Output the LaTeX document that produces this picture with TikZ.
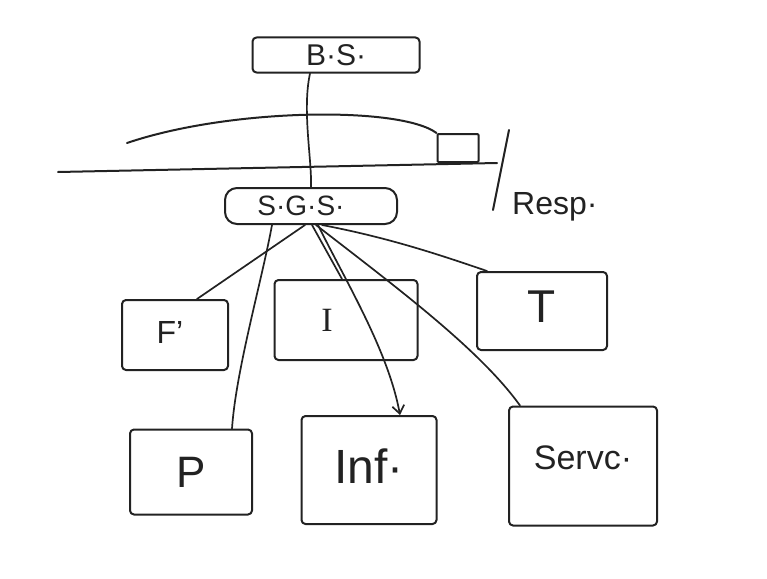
\documentclass[tikz,border=0pt]{standalone}
\usepackage{fontspec}
\setmainfont{Liberation Sans}
\newfontfamily\serifink{Liberation Serif}
\usetikzlibrary{arrows.meta}
\definecolor{ink}{HTML}{222222}
\tikzset{
  ink/.style={draw=ink, line width=2pt, line cap=round, line join=round},
  hbox/.style={ink, rectangle, rounded corners=4pt, inner sep=0pt, text=ink},
  conn/.style={ink, line width=1.7pt},
  lbl/.style={text=ink, inner sep=0pt}
}
\begin{document}
\begin{tikzpicture}[x=1pt,y=-1pt]
\useasboundingbox (0,0) rectangle (767,578);
% top boxes
\node[hbox, minimum width=167pt, minimum height=35pt, font=\fontsize{30}{30}\selectfont] (bs) at (336,55) {B·S·};
\node[hbox, rounded corners=12pt, minimum width=172pt, minimum height=36pt, font=\fontsize{28}{28}\selectfont] (sgs) at (311,206) {S·G·S·\kern20pt};
% separator line, arc and small square
\coordinate (hl1) at (58,172);
\coordinate (hl2) at (497,163);
\draw[ink] (hl1) -- (hl2);
\node[hbox, rounded corners=1pt, minimum width=41pt, minimum height=28pt] (sq) at (458,148) {};
\coordinate (arcs) at (127,143);
\draw[ink] (arcs) .. controls (230,108) and (400,106) .. (sq.north west);
\coordinate (sl1) at (509,130);
\coordinate (sl2) at (493,210);
\draw[ink] (sl1) -- (sl2);
\node[lbl, anchor=west, font=\fontsize{32}{32}\selectfont] (resp) at (512,207) {Resp·};
% middle row
\node[hbox, minimum width=106pt, minimum height=70pt, font=\fontsize{32}{32}\selectfont] (f) at (175,335) {\raisebox{6pt}{F'}\kern10pt};
\node[hbox, minimum width=143pt, minimum height=80pt, font=\serifink\fontsize{34}{34}\selectfont] (i) at (346,320) {I\kern38pt};
\node[hbox, minimum width=130pt, minimum height=78pt, font=\fontsize{46}{46}\selectfont] (t) at (542,311) {\raisebox{8pt}{T}};
% bottom row
\node[hbox, minimum width=122pt, minimum height=85pt, font=\fontsize{44}{44}\selectfont] (p) at (191,472) {P};
\node[hbox, minimum width=135pt, minimum height=108pt, font=\fontsize{48}{48}\selectfont] (inf) at (369,470) {\raisebox{8pt}{Inf·}};
\node[hbox, minimum width=148pt, minimum height=119pt, font=\fontsize{34}{34}\selectfont] (sv) at (583,466) {\raisebox{16pt}{Servc·}};
% connectors
\draw[conn] ([xshift=-26pt]bs.south) .. controls (302,110) and (312,160) .. (sgs.north);
\draw[conn] ([xshift=-6pt]sgs.south) -- ([xshift=22pt]f.north);
\draw[conn] ([xshift=-39pt]sgs.south) .. controls (262,280) and (236,370) .. ([xshift=41pt]p.north);
\draw[conn] ([xshift=1pt]sgs.south) -- ([xshift=-4pt]i.north);
\draw[conn, -{Straight Barb[length=8pt,width=12pt]}] ([xshift=7pt]sgs.south) .. controls (345,280) and (388,350) .. ([xshift=31pt]inf.north);
\draw[conn] ([xshift=11pt]sgs.south) .. controls (390,238) and (440,255) .. ([xshift=11pt]t.north west);
\draw[conn] ([xshift=5pt]sgs.south) .. controls (400,290) and (480,350) .. ([xshift=12pt]sv.north west);
\end{tikzpicture}
\end{document}
